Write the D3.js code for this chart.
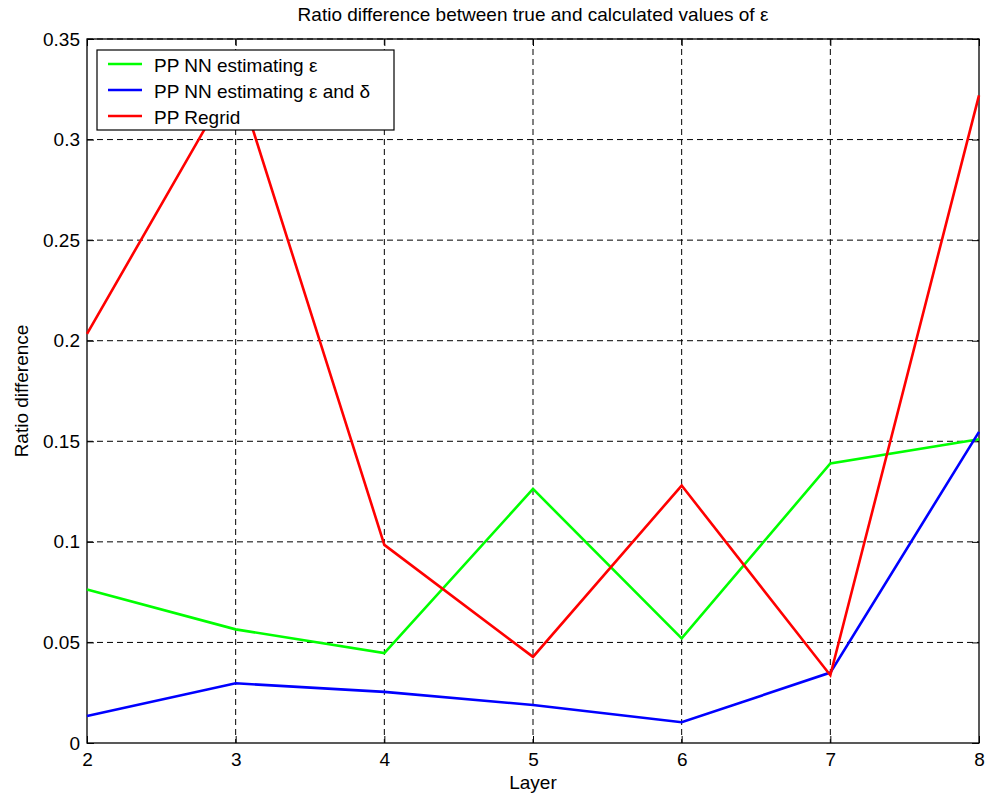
<!DOCTYPE html>
<html lang="en">
<head>
<meta charset="utf-8">
<title>Ratio difference</title>
<script src="https://d3js.org/d3.v7.min.js"></script>
<style>
  body { margin: 0; background: #fff; font-family: Arial, 'Liberation Sans', sans-serif; }
  .grid line { stroke: #000; stroke-dasharray: 6,4; stroke-width: 1; }
  .series { fill: none; stroke-width: 2.6px; stroke-linejoin: miter; }
  text { fill: #000; }
</style>
</head>
<body>
<div id="chart"></div>
<script>
  // data
  var layers = [2, 3, 4, 5, 6, 7, 8];
  var nnEps = [0.0763, 0.0565, 0.0447, 0.1263, 0.0520, 0.1390, 0.1510];
  var nnEpsDelta = [0.0134, 0.0297, 0.0254, 0.0189, 0.0103, 0.0350, 0.1547];
  var regrid = [0.2034, 0.3320, 0.0985, 0.0428, 0.1280, 0.0337, 0.3220];
  var yTicks = [0, 0.05, 0.1, 0.15, 0.2, 0.25, 0.3, 0.35];
  var seriesNames = ["PP NN estimating \u03b5", "PP NN estimating \u03b5 and \u03b4", "PP Regrid"];
  var seriesColors = ["#00ff00", "#0000ff", "#ff0000"];

  var W = 985, H = 799;
  var margin = {top: 39, right: 6, bottom: 56, left: 87};
  var width = W - margin.left - margin.right,
      height = H - margin.top - margin.bottom;

  var svg = d3.select("#chart").append("svg")
      .attr("width", W).attr("height", H);
  var g = svg.append("g")
      .attr("transform", "translate(" + margin.left + "," + margin.top + ")");

  var x = d3.scaleLinear().domain([2, 8]).range([0, width]);
  var y = d3.scaleLinear().domain([0, 0.35]).range([height, 0]);

  // grid
  var grid = g.append("g").attr("class", "grid");
  grid.selectAll(".vx").data(layers.slice(1, -1)).enter().append("line")
      .attr("x1", d => x(d)).attr("x2", d => x(d))
      .attr("y1", 0).attr("y2", height);
  grid.selectAll(".hy").data(yTicks.slice(1)).enter().append("line")
      .attr("x1", 0).attr("x2", width)
      .attr("y1", d => y(d)).attr("y2", d => y(d));

  // axes with inward ticks
  function styleAxis(sel) {
    sel.select(".domain").remove();
    sel.selectAll("text").style("font-size", "19px").style("font-family", "Arial, 'Liberation Sans', sans-serif");
    sel.selectAll("line").attr("stroke", "#000");
  }
  g.append("g").attr("transform", "translate(0," + height + ")")
      .call(d3.axisBottom(x).tickValues(layers).tickFormat(d3.format("d")).tickSizeInner(-7).tickPadding(10))
      .call(styleAxis);
  g.append("g")
      .call(d3.axisLeft(y).tickValues(yTicks).tickFormat(d => d === 0 ? "0" : d3.format("")(d)).tickSizeInner(-7).tickPadding(7))
      .call(styleAxis);
  g.append("g").attr("transform", "translate(" + width + ",0)")
      .call(d3.axisRight(y).tickValues(yTicks).tickFormat("").tickSizeInner(-7))
      .call(styleAxis);
  g.append("g")
      .call(d3.axisTop(x).tickValues(layers).tickFormat("").tickSizeInner(-7))
      .call(styleAxis);

  // box
  g.append("rect").attr("width", width).attr("height", height)
      .attr("fill", "none").attr("stroke", "#000").attr("stroke-width", 1.3);

  // lines
  var allSeries = [nnEps, nnEpsDelta, regrid];
  var line = d3.line().x((d, i) => x(layers[i])).y(d => y(d));
  g.selectAll(".series").data(allSeries).enter().append("path")
      .attr("class", "series")
      .attr("stroke", (d, i) => seriesColors[i])
      .attr("d", line);

  // legend
  var leg = g.append("g").attr("transform", "translate(10,11)");
  leg.append("rect").attr("width", 297).attr("height", 80)
      .attr("fill", "#fff").attr("stroke", "#000").attr("stroke-width", 1.2);
  seriesNames.forEach(function (name, i) {
    var ly = 14 + i * 26;
    leg.append("line").attr("x1", 11).attr("x2", 45).attr("y1", ly).attr("y2", ly)
        .attr("stroke", seriesColors[i]).attr("stroke-width", 2.6);
    leg.append("text").attr("x", 57).attr("y", ly + 7.5)
        .style("font-size", "19px").text(name);
  });

  // titles
  svg.append("text").attr("x", margin.left + width / 2).attr("y", 21)
      .attr("text-anchor", "middle").style("font-size", "19px")
      .text("Ratio difference between true and calculated values of \u03b5");
  svg.append("text").attr("x", margin.left + width / 2).attr("y", 789)
      .attr("text-anchor", "middle").style("font-size", "19px").text("Layer");
  svg.append("text")
      .attr("transform", "translate(28," + (margin.top + height / 2) + ") rotate(-90)")
      .attr("text-anchor", "middle").style("font-size", "19px").text("Ratio difference");
</script>
</body>
</html>
